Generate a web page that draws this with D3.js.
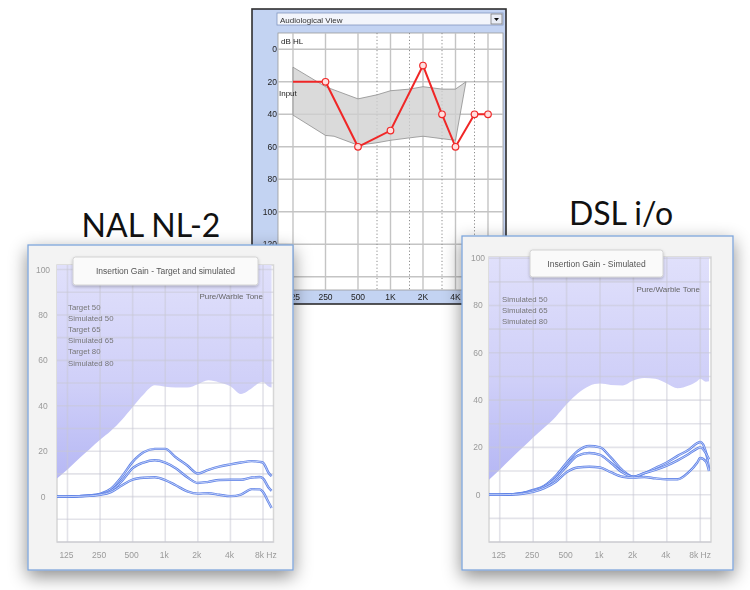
<!DOCTYPE html>
<html>
<head>
<meta charset="utf-8">
<script src="https://cdn.jsdelivr.net/npm/d3@7"></script>
<style>
  body { margin: 0; background: #ffffff; }
  svg { display: block; }
</style>
</head>
<body>
<svg id="chart" width="750" height="590"></svg>
<script>
// ---------- Audiogram (dB HL) ----------
const audioFreqs   = [125, 250, 500, 1000, 2000, 3000, 4000, 6000, 8000];
const thresholdDb  = [20, 20, 60, 50, 10, 40, 60, 40, 40];
const bandFreqs    = [125, 250, 300, 500, 750, 1000, 1500, 2000, 3000, 4000, 5000];
const bandTopDb    = [11, 23, 25, 30.5, 28, 25.5, 24.5, 23, 24.5, 24.5, 20];
const bandBottomDb = [40.5, 53, 53.5, 59, 57.5, 56, 54.5, 53.5, 55, 56, 20];
const audioOctaves = [125, 250, 500, 1000, 2000, 4000, 8000];
const audioOctaveLabels = ["125", "250", "500", "1K", "2K", "4K", "8K"];
const audioHalfOctaves = [750, 1500, 3000, 6000];
const audioDbGrid  = [0, 20, 40, 60, 80, 100, 120, 140];
const audioDbLabels = ["0", "20", "40", "60", "80", "100", "120"];

// ---------- Insertion gain panels (dB) ----------
const gainFreqs = [100, 125, 160, 200, 250, 315, 400, 500, 630, 800, 1000, 1250,
                   1600, 2000, 2500, 3150, 4000, 5000, 6300, 7500, 8000, 9000, 9600];
const nalCeiling = [8, 11.9, 16.8, 20.9, 25, 29, 34, 39.5, 45, 49, 48.4, 48,
                    48, 49.5, 51.2, 50.3, 48.6, 45.2, 47.7, 50.3, 50.5, 48.5, 48];
const nalSoft = [0, 0, 0.2, 0.5, 1.2, 3.5, 9, 15.3, 19.5, 21, 21, 17.3,
                 13.7, 10.2, 11.8, 13.2, 14.2, 15, 15.6, 15.3, 15, 10.5, 9];
const nalMedium = [0, 0, 0.2, 0.5, 1, 2.6, 7, 12.5, 15, 16, 15, 12.5,
                   8.5, 6, 6.5, 7.3, 7.4, 7.4, 8.4, 8.6, 8, 4, 2.5];
const nalLoud = [0, 0, 0.1, 0.3, 0.8, 2, 5, 7.5, 8.3, 8.5, 7.3, 5,
                 2.3, 1.3, 1.5, 0.8, 0.2, 0.9, 3.3, 3.2, 2, -2.5, -5];

const dslCeiling = [6.3, 10.6, 15.5, 19.8, 24.2, 28.4, 33, 38.2, 42.8, 46, 47, 46.4,
                    46.2, 48.3, 49.3, 49, 47, 45, 46.2, 48, 49, 47.8, 48];
const dslSoft = [0, 0, 0.2, 0.7, 2, 3.8, 8, 13.5, 18.5, 20.6, 20, 15.8,
                 10.3, 7.6, 9, 11.3, 13.6, 16.4, 19, 21.8, 22.3, 18, 11];
const dslMedium = [0, 0, 0.2, 0.6, 1.7, 3.4, 7, 12, 16.5, 17.6, 16.8, 13.5,
                   9.4, 7.6, 9.1, 10.5, 12.3, 14.5, 17.2, 19.5, 20, 17.5, 15];
const dslLoud = [0, 0, 0.1, 0.4, 1.2, 2.8, 5.5, 9.5, 11.5, 11.8, 11.5, 9.5,
                 7.6, 7.2, 7.5, 6.9, 6.5, 6.5, 9.5, 13.5, 15.5, 14, 10];

const gainOctaves = [125, 250, 500, 1000, 2000, 4000, 8000];
const gainOctaveLabels = ["125", "250", "500", "1k", "2k", "4k", "8k Hz"];
const gainDbGrid = [-20, -10, 0, 10, 20, 30, 40, 50, 60, 70, 80, 90, 100];
const gainDbLabels = [0, 20, 40, 60, 80, 100];

const nalLegend = ["Target 50", "Simulated 50", "Target 65", "Simulated 65", "Target 80", "Simulated 80"];
const dslLegend = ["Simulated 50", "Simulated 65", "Simulated 80"];

// ---------- drawing ----------
const svg = d3.select("#chart");
const defs = svg.append("defs");

const shadow = defs.append("filter").attr("id", "shadow")
  .attr("x", "-25%").attr("y", "-25%").attr("width", "150%").attr("height", "150%");
shadow.append("feDropShadow").attr("dx", 0).attr("dy", 6)
  .attr("stdDeviation", 9).attr("flood-color", "#000").attr("flood-opacity", 0.45);

const tipShadow = defs.append("filter").attr("id", "tipShadow")
  .attr("x", "-20%").attr("y", "-40%").attr("width", "140%").attr("height", "180%");
tipShadow.append("feDropShadow").attr("dx", 0).attr("dy", 1.5)
  .attr("stdDeviation", 1.5).attr("flood-color", "#000").attr("flood-opacity", 0.25);

const soft = defs.append("filter").attr("id", "soft")
  .attr("x", "-5%").attr("y", "-5%").attr("width", "110%").attr("height", "110%");
soft.append("feGaussianBlur").attr("stdDeviation", 0.6);

const UI_FONT = "'Liberation Sans', 'DejaVu Sans', sans-serif";

// ===== Audiogram window =====
(function drawAudiogram() {
  const win = { x0: 252, y0: 9, x1: 506, y1: 304 };
  const plot = { x0: 278, y0: 33, x1: 503, y1: 290 };
  const g = svg.append("g").attr("filter", "url(#soft)");

  g.append("rect")
    .attr("x", win.x0).attr("y", win.y0)
    .attr("width", win.x1 - win.x0).attr("height", win.y1 - win.y0)
    .attr("fill", "#c3d3f2").attr("stroke", "#2e2e2e").attr("stroke-width", 1.6);

  // drop-down selector
  g.append("rect").attr("x", 277).attr("y", 13).attr("width", 226).attr("height", 12)
    .attr("fill", "#f3f5fb").attr("stroke", "#8397c0").attr("stroke-width", 0.8);
  g.append("rect").attr("x", 491).attr("y", 14).attr("width", 11).attr("height", 10)
    .attr("fill", "#e9edf6").attr("stroke", "#6d6d6d").attr("stroke-width", 0.7);
  g.append("path").attr("d", "M494,18 L499,18 L496.5,21 Z").attr("fill", "#111");
  g.append("text").attr("x", 280).attr("y", 22.5)
    .attr("font-family", UI_FONT).attr("font-size", 8).attr("fill", "#333")
    .text("Audiological View");

  // plot
  g.append("rect").attr("x", plot.x0).attr("y", plot.y0)
    .attr("width", plot.x1 - plot.x0).attr("height", plot.y1 - plot.y0)
    .attr("fill", "#ffffff").attr("stroke", "#9a9a9a").attr("stroke-width", 0.8);

  const x = d3.scaleLog().domain([125, 8000]).range([293, 488]);
  const y = d3.scaleLinear().domain([0, 140]).range([49.3, 276.8]);

  g.append("g").selectAll("line").data(audioDbGrid).join("line")
    .attr("x1", plot.x0).attr("x2", plot.x1)
    .attr("y1", d => y(d)).attr("y2", d => y(d))
    .attr("stroke", "#c4c4c4").attr("stroke-width", 1.4);
  g.append("g").selectAll("line").data(audioOctaves).join("line")
    .attr("x1", d => x(d)).attr("x2", d => x(d))
    .attr("y1", plot.y0).attr("y2", plot.y1)
    .attr("stroke", "#c4c4c4").attr("stroke-width", 1.4);
  g.append("g").selectAll("line").data(audioHalfOctaves).join("line")
    .attr("x1", d => x(d)).attr("x2", d => x(d))
    .attr("y1", plot.y0).attr("y2", plot.y1)
    .attr("stroke", "#8c8c8c").attr("stroke-width", 1).attr("stroke-dasharray", "1.2,2.2");

  // shaded input range
  const band = bandFreqs.map((f, i) => ({ f, hi: bandTopDb[i], lo: bandBottomDb[i] }));
  g.append("path").datum(band)
    .attr("d", d3.area().x(d => x(d.f)).y0(d => y(d.lo)).y1(d => y(d.hi)))
    .attr("fill", "#cfcfcf").attr("fill-opacity", 0.78)
    .attr("stroke", "#8e8e8e").attr("stroke-width", 0.8);

  // threshold line
  const pts = audioFreqs.map((f, i) => ({ f, db: thresholdDb[i] }));
  g.append("path").datum(pts)
    .attr("d", d3.line().x(d => x(d.f)).y(d => y(d.db)))
    .attr("fill", "none").attr("stroke", "#f02828").attr("stroke-width", 2);
  g.append("g").selectAll("circle").data(pts.slice(1)).join("circle")
    .attr("cx", d => x(d.f)).attr("cy", d => y(d.db)).attr("r", 3.3)
    .attr("fill", "#ffdede").attr("stroke", "#f02828").attr("stroke-width", 1.2);

  // labels
  g.append("text").attr("x", 281).attr("y", 44)
    .attr("font-family", UI_FONT).attr("font-size", 8).attr("fill", "#222").text("dB HL");
  g.append("text").attr("x", 279).attr("y", 96)
    .attr("font-family", UI_FONT).attr("font-size", 8).attr("fill", "#222").text("Input");

  g.append("g").selectAll("text").data(audioDbLabels).join("text")
    .attr("x", 277).attr("y", (d, i) => y(audioDbGrid[i]) + 3)
    .attr("text-anchor", "end")
    .attr("font-family", UI_FONT).attr("font-size", 8.5).attr("fill", "#222")
    .text(d => d);
  g.append("g").selectAll("text").data(audioOctaveLabels).join("text")
    .attr("x", (d, i) => x(audioOctaves[i]))
    .attr("y", 299.5).attr("text-anchor", "middle")
    .attr("font-family", UI_FONT).attr("font-size", 8.5).attr("fill", "#222")
    .text(d => d);
})();

// ===== Insertion gain panel =====
function gainPanel(cfg) {
  const g = svg.append("g");
  const fr = cfg.frame, p = cfg.plot;

  g.append("rect").attr("x", fr.x0).attr("y", fr.y0)
    .attr("width", fr.x1 - fr.x0).attr("height", fr.y1 - fr.y0)
    .attr("fill", "#f3f3f3").attr("stroke", "#7ea5da").attr("stroke-width", 1.3)
    .attr("filter", "url(#shadow)");

  const c = g.append("g").attr("filter", "url(#soft)");

  const x = d3.scaleLog().domain([100, 10000]).range([p.x0, p.x1]);
  const y = d3.scaleLinear().domain(cfg.dbDomain).range([p.y1, p.y0]);

  c.append("rect").attr("x", p.x0).attr("y", p.y0)
    .attr("width", p.x1 - p.x0).attr("height", p.y1 - p.y0)
    .attr("fill", "#ffffff").attr("stroke", "#d6d6d6").attr("stroke-width", 1.5);

  // region above the ceiling curve
  const gid = "grad_" + cfg.id;
  const grad = defs.append("linearGradient").attr("id", gid)
    .attr("gradientUnits", "userSpaceOnUse")
    .attr("x1", 0).attr("x2", 0).attr("y1", p.y0).attr("y2", y(5));
  grad.append("stop").attr("offset", 0).attr("stop-color", "#e0e0fb");
  grad.append("stop").attr("offset", 0.55).attr("stop-color", "#cfcff8");
  grad.append("stop").attr("offset", 1).attr("stop-color", "#b4b6f4");

  const ceil = gainFreqs.map((f, i) => ({ f, db: cfg.ceiling[i] }));
  c.append("path").datum(ceil)
    .attr("d", d3.area().curve(d3.curveMonotoneX)
      .x(d => x(d.f)).y0(p.y0).y1(d => y(d.db)))
    .attr("fill", `url(#${gid})`);

  // grid drawn over the shaded region so it shows through faintly
  c.append("g").selectAll("line").data(gainDbGrid.filter(d => y(d) >= p.y0)).join("line")
    .attr("x1", p.x0).attr("x2", p.x1)
    .attr("y1", d => y(d)).attr("y2", d => y(d))
    .attr("stroke", "#c8c8d4").attr("stroke-opacity", 0.5).attr("stroke-width", 1.6);
  c.append("g").selectAll("line").data(gainOctaves).join("line")
    .attr("x1", d => x(d)).attr("x2", d => x(d))
    .attr("y1", p.y0).attr("y2", p.y1)
    .attr("stroke", "#c8c8d4").attr("stroke-opacity", 0.5).attr("stroke-width", 1.6);

  // gain curves (double-stroke look of the fitting software)
  cfg.curves.forEach(vals => {
    const pts = gainFreqs.map((f, i) => ({ f, db: vals[i] }));
    const line = d3.line().curve(d3.curveMonotoneX).x(d => x(d.f)).y(d => y(d.db));
    c.append("path").datum(pts).attr("d", line)
      .attr("fill", "none").attr("stroke", "#5f82e6").attr("stroke-width", 2.4);
    c.append("path").datum(pts).attr("d", line)
      .attr("fill", "none").attr("stroke", "#cbd7fa").attr("stroke-width", 0.9);
  });

  // axis labels
  c.append("g").selectAll("text").data(gainDbLabels).join("text")
    .attr("x", cfg.yLabelX).attr("y", d => y(d) + 3).attr("text-anchor", "middle")
    .attr("font-family", UI_FONT).attr("font-size", 8.5).attr("fill", "#9a9a9a")
    .text(d => d);
  c.append("g").selectAll("text").data(gainOctaveLabels).join("text")
    .attr("x", (d, i) => i === gainOctaveLabels.length - 1 ? x(gainOctaves[i]) - cfg.lastLabelShift : x(gainOctaves[i]) - 1)
    .attr("y", cfg.xLabelY)
    .attr("text-anchor", (d, i) => i === gainOctaveLabels.length - 1 ? "start" : "middle")
    .attr("font-family", UI_FONT).attr("font-size", 8.5).attr("fill", "#9a9a9a")
    .text(d => d);

  // legend text
  c.append("g").selectAll("text").data(cfg.legend).join("text")
    .attr("x", cfg.legendX).attr("y", (d, i) => cfg.legendY + i * 11.1)
    .attr("font-family", UI_FONT).attr("font-size", 7.8).attr("fill", "#777")
    .text(d => d);

  c.append("text").attr("x", cfg.toneX).attr("y", cfg.toneY).attr("text-anchor", "end")
    .attr("font-family", UI_FONT).attr("font-size", 8).attr("fill", "#666")
    .text("Pure/Warble Tone");

  // title tooltip
  const t = cfg.tip;
  c.append("rect").attr("x", t.x0).attr("y", t.y0)
    .attr("width", t.x1 - t.x0).attr("height", t.y1 - t.y0).attr("rx", 2.5)
    .attr("fill", "#fafafa").attr("stroke", "#cfcfcf").attr("stroke-width", 0.9)
    .attr("filter", "url(#tipShadow)");
  c.append("text").attr("x", (t.x0 + t.x1) / 2).attr("y", (t.y0 + t.y1) / 2 + 3)
    .attr("text-anchor", "middle")
    .attr("font-family", UI_FONT).attr("font-size", 8.5).attr("fill", "#555")
    .text(t.text);
}

gainPanel({
  id: "nal",
  frame: { x0: 28, y0: 245, x1: 293, y1: 570 },
  plot: { x0: 57, y0: 265, x1: 273.5, y1: 542 },
  dbDomain: [-20, 102],
  ceiling: nalCeiling,
  curves: [nalSoft, nalMedium, nalLoud],
  yLabelX: 43, xLabelY: 558, lastLabelShift: 8,
  legend: nalLegend, legendX: 68, legendY: 310,
  toneX: 263, toneY: 299,
  tip: { x0: 73, y0: 257, x1: 258, y1: 285, text: "Insertion Gain - Target and simulated" }
});

gainPanel({
  id: "dsl",
  frame: { x0: 462, y0: 236, x1: 733, y1: 570 },
  plot: { x0: 489, y0: 257, x1: 711, y1: 542 },
  dbDomain: [-20, 100.5],
  ceiling: dslCeiling,
  curves: [dslSoft, dslMedium, dslLoud],
  yLabelX: 478, xLabelY: 558, lastLabelShift: 11,
  legend: dslLegend, legendX: 502, legendY: 302,
  toneX: 700, toneY: 292,
  tip: { x0: 530, y0: 250, x1: 663, y1: 277, text: "Insertion Gain - Simulated" }
});

// ===== Titles =====
const TITLE_FONT = "Lato, 'Open Sans', sans-serif";
svg.append("text").attr("x", 151).attr("y", 237).attr("text-anchor", "middle")
  .attr("font-family", TITLE_FONT).attr("font-size", 32).attr("fill", "#111")
  .text("NAL NL-2");
svg.append("text").attr("x", 621).attr("y", 225).attr("text-anchor", "middle")
  .attr("font-family", TITLE_FONT).attr("font-size", 32).attr("fill", "#111")
  .text("DSL i/o");
</script>
</body>
</html>
